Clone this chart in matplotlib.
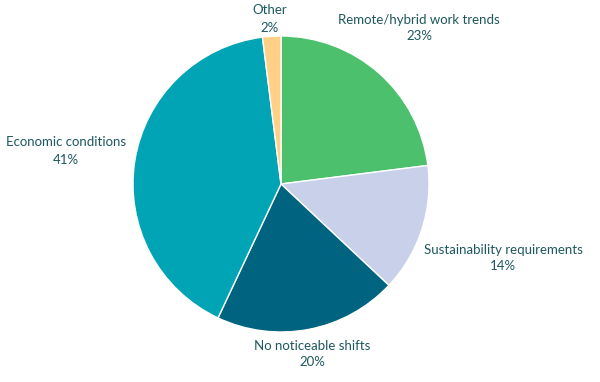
import matplotlib.pyplot as plt

# data
categories = ['Remote/hybrid work trends', 'Sustainability requirements',
              'No noticeable shifts', 'Economic conditions', 'Other']
values = [23, 14, 20, 41, 2]
colors = ['#4cc06c', '#c9d0ea', '#00637f', '#00a4b4', '#ffd086']

# label placement in pixel space (x, y from top)
label_pos = [(419, 28), (503, 258), (312, 354), (66, 151), (270, 19)]

plt.rcParams['font.family'] = ['Lato', 'DejaVu Sans']
text_color = '#1d585e'

fig = plt.figure(figsize=(6, 3.82), dpi=100)
ax = fig.add_axes([0, 0, 1, 1])

ax.pie(values, colors=colors, startangle=90, counterclock=False,
       center=(281, 382 - 184), radius=148,
       wedgeprops=dict(edgecolor='white', linewidth=1))

for cat, val, (x, y) in zip(categories, values, label_pos):
    ax.text(x, 382 - y, f'{cat}\n{val}%', ha='center', va='center',
            fontsize=9.5, color=text_color, linespacing=1.5)

ax.set_xlim(0, 600)
ax.set_ylim(0, 382)
ax.set_aspect('equal')
ax.axis('off')

fig.savefig('out.png', dpi=100)
